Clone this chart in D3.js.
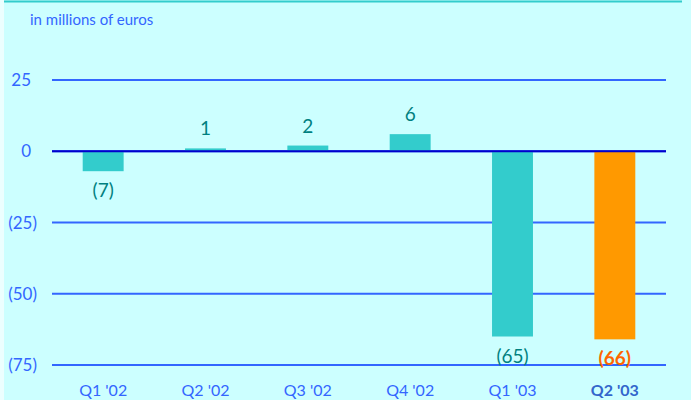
<!DOCTYPE html>
<html>
<head>
<meta charset="utf-8">
<script src="https://cdn.jsdelivr.net/npm/d3@7"></script>
<style>
  body { margin: 0; background: #ecffff; }
  #chart text { font-family: "Lato", "Noto Sans", sans-serif; }
</style>
</head>
<body>
<div id="chart"></div>
<script>
var quarters = ["Q1 '02", "Q2 '02", "Q3 '02", "Q4 '02", "Q1 '03", "Q2 '03"];
var values = [-7, 1, 2, 6, -65, -66];
var valueLabels = ["(7)", "1", "2", "6", "(65)", "(66)"];
var yTicks = [25, 0, -25, -50, -75];
var yTickLabels = ["25", "0", "(25)", "(50)", "(75)"];

var W = 691, H = 400;
var margin = { top: 80, left: 52, right: 25 };

var svg = d3.select("#chart").append("svg")
    .attr("width", W)
    .attr("height", H);

// background panel
svg.append("rect")
    .attr("x", 4).attr("y", 0)
    .attr("width", W - 4).attr("height", H)
    .attr("fill", "#ccffff");
svg.append("line")
    .attr("x1", 4).attr("x2", 682)
    .attr("y1", 1.5).attr("y2", 1.5)
    .attr("stroke", "#33cccc")
    .attr("stroke-width", 2);

var x = d3.scaleBand()
    .domain(quarters)
    .range([margin.left, W - margin.right])
    .paddingInner(0.6)
    .paddingOuter(0.3);

var y = d3.scaleLinear()
    .domain([25, -75])
    .range([80, 365]);

svg.append("text")
    .attr("x", 30).attr("y", 25)
    .attr("font-size", 15)
    .attr("fill", "#3366ff")
    .text("in millions of euros");

// gridlines
svg.selectAll(".grid")
    .data(yTicks)
    .enter()
    .append("line")
    .attr("class", "grid")
    .attr("x1", margin.left).attr("x2", 666)
    .attr("y1", d => y(d)).attr("y2", d => y(d))
    .attr("stroke", "#3366ff")
    .attr("stroke-width", 2);

svg.selectAll(".ytick")
    .data(yTicks)
    .enter()
    .append("text")
    .attr("class", "ytick")
    .attr("x", d => d < 0 ? 37 : 31)
    .attr("y", d => y(d) + 6)
    .attr("text-anchor", "end")
    .attr("font-size", 17)
    .attr("fill", "#3366ff")
    .text((d, i) => yTickLabels[i]);

// bars
svg.selectAll(".bar")
    .data(values)
    .enter()
    .append("rect")
    .attr("class", "bar")
    .attr("x", (d, i) => x(quarters[i]))
    .attr("width", x.bandwidth())
    .attr("y", d => y(Math.max(0, d)))
    .attr("height", d => Math.abs(y(d) - y(0)))
    .attr("fill", (d, i) => i == quarters.length - 1 ? "#ff9900" : "#33cccc");

// zero line
svg.append("line")
    .attr("x1", margin.left).attr("x2", 666)
    .attr("y1", y(0)).attr("y2", y(0))
    .attr("stroke", "#0000cc")
    .attr("stroke-width", 2);

// value labels
svg.selectAll(".vlabel")
    .data(values)
    .enter()
    .append("text")
    .attr("class", "vlabel")
    .attr("x", (d, i) => x(quarters[i]) + x.bandwidth() / 2)
    .attr("y", d => d < 0 ? y(d) + 26 : y(d) - 13)
    .attr("text-anchor", "middle")
    .attr("font-size", 19)
    .attr("font-weight", (d, i) => i == quarters.length - 1 ? "bold" : "normal")
    .attr("fill", (d, i) => i == quarters.length - 1 ? "#ff6600" : "#008080")
    .text((d, i) => valueLabels[i]);

// category labels
svg.selectAll(".xlabel")
    .data(quarters)
    .enter()
    .append("text")
    .attr("class", "xlabel")
    .attr("x", d => x(d) + x.bandwidth() / 2)
    .attr("y", 396)
    .attr("text-anchor", "middle")
    .attr("font-size", 16)
    .attr("font-weight", (d, i) => i == quarters.length - 1 ? "bold" : "normal")
    .attr("fill", (d, i) => i == quarters.length - 1 ? "#3366cc" : "#3366ff")
    .text(d => d);
</script>
</body>
</html>
